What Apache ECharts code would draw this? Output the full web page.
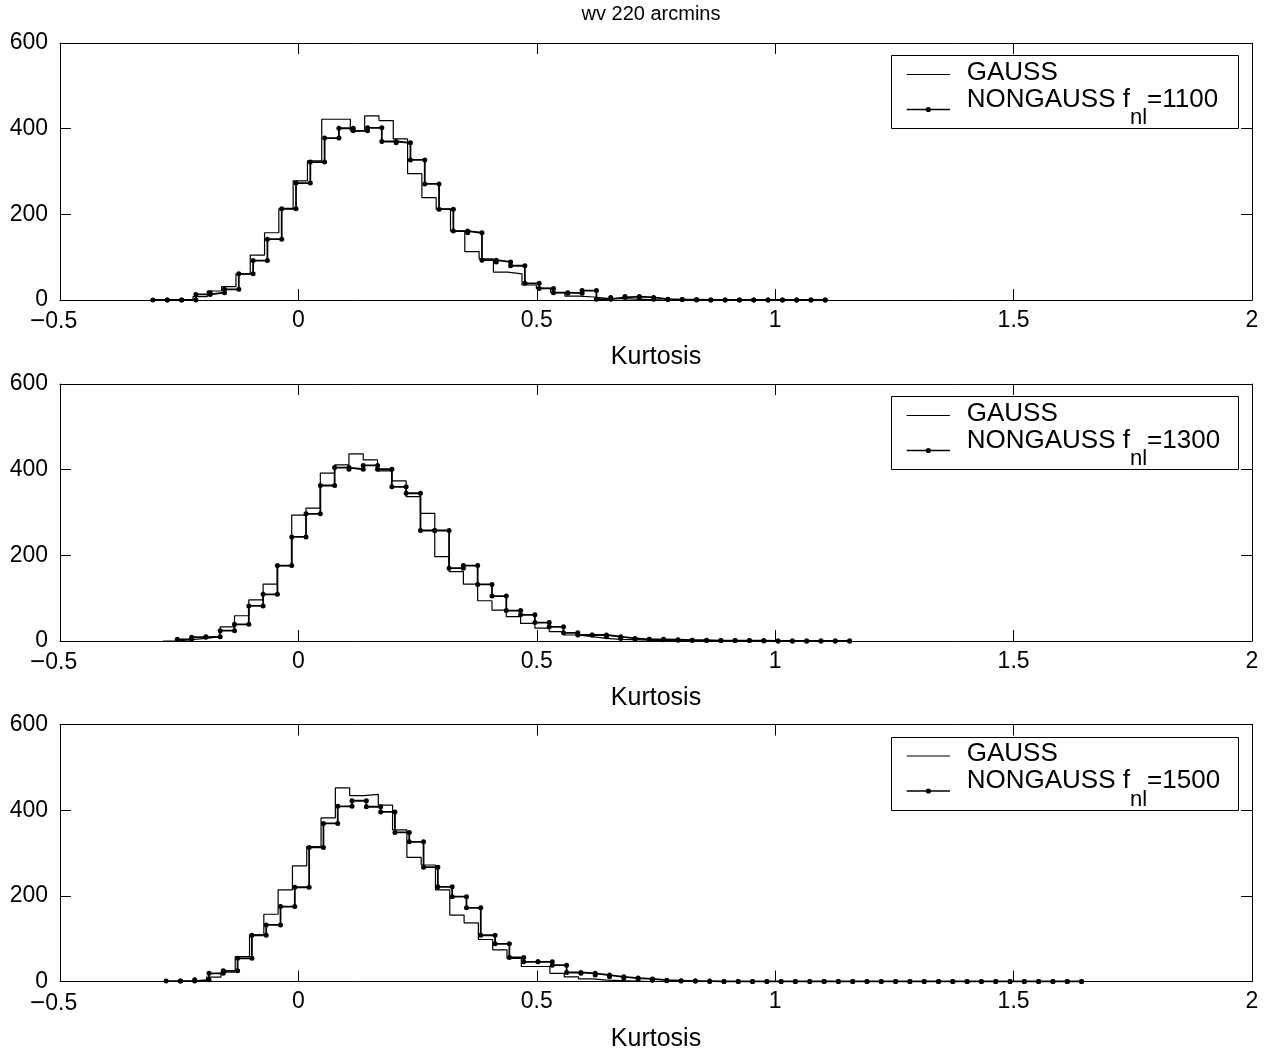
<!DOCTYPE html>
<html>
<head>
<meta charset="utf-8">
<script src="https://cdn.jsdelivr.net/npm/echarts@6/dist/echarts.min.js"></script>
<style>html,body{margin:0;padding:0;background:#fff}#c{width:1264px;height:1053px}</style>
</head>
<body>
<div id="c"></div>
<script>
// ---- data ----
const titleText = 'wv 220 arcmins';
const xLabel = 'Kurtosis';
const gaussName = 'GAUSS';
const fnlValues = [1100, 1300, 1500];
const xTicks = [-0.5, 0, 0.5, 1, 1.5, 2];
const yTicks = [0, 200, 400, 600];
const binWidth = 0.03;

// panel 1 (fnl = 1100)
const p1NgStart = -0.305;
const p1GStart = -0.311;
const p1Ng = [0,0,0,13,17,25,61,92,142,213,273,322,378,401,395,402,370,367,327,271,212,161,157,93,89,80,39,27,17,16,22,2,6,8,6,2,1,1,0,0,0,0,0,0,0,0,0,0];
const p1G  = [0,0,0,8,21,31,61,105,157,213,278,325,422,422,395,430,419,376,295,239,212,161,113,96,65,61,35,27,17,9,7,4,3,2,1,0,0,0,0,0];

// panel 2 (fnl = 1300)
const p2NgStart = -0.254;
const p2GStart = -0.284;
const p2Ng = [4,9,10,24,39,82,109,176,243,297,363,405,401,410,401,360,345,258,258,170,176,132,105,71,61,43,33,19,14,14,10,6,4,4,3,2,2,1,1,1,1,0,0,0,0,0,0,0];
const p2G  = [0,3,6,10,33,59,96,133,176,294,310,392,411,437,423,397,374,337,298,197,162,133,94,72,57,41,30,22,14,10,6,4,3,2,1,1,0,0,0,0];

// panel 3 (fnl = 1500)
const p3NgStart = -0.2775;
const p3GStart = -0.2825;
const p3Ng = [1,1,4,19,25,54,108,132,175,220,313,369,409,422,408,396,348,326,267,221,198,172,108,88,56,46,46,38,21,19,15,11,8,6,3,2,1,1,0,0,0,0,0,0,0,0,0,0,0,0,0,0,0,0,0,0,0,0,0,0,0,0,0,0,0];
const p3G  = [0,1,2,10,22,58,109,157,214,270,315,382,452,434,437,412,354,290,272,214,155,137,98,74,54,35,35,19,11,6,3,2,1,0,0,0,0,0,0,0,0,0,0,0,0];

const panels = [
  {ngStart: p1NgStart, gStart: p1GStart, ng: p1Ng, g: p1G, fnl: fnlValues[0]},
  {ngStart: p2NgStart, gStart: p2GStart, ng: p2Ng, g: p2G, fnl: fnlValues[1]},
  {ngStart: p3NgStart, gStart: p3GStart, ng: p3Ng, g: p3G, fnl: fnlValues[2]}
];

// MATLAB-style stairs: vertices (x_i,y_i) and (x_{i+1},y_i)
function stairs(start, counts) {
  const pts = [];
  for (let i = 0; i < counts.length; i++) {
    pts.push([start + i * binWidth, counts[i]]);
    if (i < counts.length - 1) pts.push([start + (i + 1) * binWidth, counts[i]]);
  }
  return pts;
}

// ---- layout ----
const FONT = "'Liberation Sans', Arial, Helvetica, sans-serif";
const gridLeft = 60, gridWidth = 1192, gridHeight = 257;
const gridTops = [43, 384, 724.5];
// negative labels: MATLAB-style wide minus, label sits a little left of its tick
const fmtX = v => (v < 0 ? '{m|\u2212}{a|' + Math.abs(v) + '}{p|0}' : String(v));

const measureCtx = document.createElement('canvas').getContext('2d');
function textWidth(str, size) {
  measureCtx.font = size + "px 'Liberation Sans', Arial, sans-serif";
  return measureCtx.measureText(str).width;
}

const option = {
  animation: false,
  backgroundColor: '#ffffff',
  title: {
    text: titleText, left: 646, top: -1, textAlign: 'center',
    textStyle: {fontFamily: FONT, fontSize: 20, fontWeight: 'normal', color: '#000'}
  },
  grid: [], xAxis: [], yAxis: [], series: [], graphic: []
};

const LEG_FS = 26, SUB_FS = 22, MID = 0.3465; // middle-baseline offset (em)

panels.forEach((p, k) => {
  const top = gridTops[k];
  option.grid.push({left: gridLeft, top: top, width: gridWidth, height: gridHeight, containLabel: false});
  const axLine = {show: true, onZero: false, lineStyle: {color: '#000', width: 1}};
  const tick = {show: true, inside: true, length: 11, lineStyle: {color: '#000', width: 1}};
  option.xAxis.push({
    type: 'value', gridIndex: k, min: xTicks[0], max: xTicks[xTicks.length - 1], interval: 0.5,
    position: 'bottom', axisLine: axLine, axisTick: tick, splitLine: {show: false},
    axisLabel: {formatter: fmtX, fontFamily: FONT, fontSize: 23, color: '#000', margin: 9,
      rich: {
        m: {fontFamily: FONT, fontSize: 26, color: '#000'},
        a: {fontFamily: FONT, fontSize: 23, color: '#000'},
        p: {fontFamily: FONT, fontSize: 23, color: 'rgba(0,0,0,0)'}
      }},
    name: xLabel, nameLocation: 'middle', nameGap: 45,
    nameTextStyle: {fontFamily: FONT, fontSize: 25, color: '#000'}
  });
  option.xAxis.push({
    type: 'value', gridIndex: k, min: xTicks[0], max: xTicks[xTicks.length - 1], interval: 0.5,
    position: 'top', axisLine: axLine, axisTick: tick, splitLine: {show: false}, axisLabel: {show: false}
  });
  option.yAxis.push({
    type: 'value', gridIndex: k, min: yTicks[0], max: yTicks[yTicks.length - 1], interval: 200,
    position: 'left', axisLine: axLine, axisTick: tick, splitLine: {show: false},
    axisLabel: {fontFamily: FONT, fontSize: 23, color: '#000', margin: 12}
  });
  option.yAxis.push({
    type: 'value', gridIndex: k, min: yTicks[0], max: yTicks[yTicks.length - 1], interval: 200,
    position: 'right', axisLine: axLine, axisTick: tick, splitLine: {show: false}, axisLabel: {show: false}
  });
  const ngName = 'NONGAUSS f_nl=' + p.fnl;
  option.series.push({
    type: 'line', name: gaussName, xAxisIndex: 2 * k, yAxisIndex: 2 * k,
    data: stairs(p.gStart, p.g), symbol: 'none',
    lineStyle: {color: '#000', width: 1.2}, itemStyle: {color: '#000'}, z: 2
  });
  option.series.push({
    type: 'line', name: ngName, xAxisIndex: 2 * k, yAxisIndex: 2 * k,
    data: stairs(p.ngStart, p.ng), symbol: 'circle', symbolSize: 5, showSymbol: true,
    lineStyle: {color: '#000', width: 1.8}, itemStyle: {color: '#000'}, z: 3
  });

  // legend box (MATLAB style)
  const bx = 891.5, by = Math.round(top + 12.2) + 0.5, bw = 347, bh = 73;
  const iconX0 = 906.7, iconX1 = 950, textX = 966.7;
  const gLineY = top + 31.5, ngLineY = top + 66.5;
  const gBase = top + 38.8, ngBase = top + 65.5, subBase = top + 83;
  const w1 = textWidth('NONGAUSS f', LEG_FS);
  const w2 = textWidth('nl', SUB_FS);
  const txt = (x, base, s, fs) => ({
    type: 'text', x: x, y: base - MID * fs, z: 21, silent: true,
    style: {text: s, fontFamily: FONT, fontSize: fs, fill: '#000', align: 'left', verticalAlign: 'middle'}
  });
  option.graphic.push(
    {type: 'rect', z: 20, silent: true, shape: {x: bx, y: by, width: bw, height: bh},
      style: {fill: '#fff', stroke: '#000', lineWidth: 1}},
    {type: 'line', z: 21, silent: true, shape: {x1: iconX0, y1: gLineY, x2: iconX1, y2: gLineY},
      style: {stroke: '#000', lineWidth: 1.2}},
    {type: 'line', z: 21, silent: true, shape: {x1: iconX0, y1: ngLineY, x2: iconX1, y2: ngLineY},
      style: {stroke: '#000', lineWidth: 1.5}},
    {type: 'circle', z: 22, silent: true, shape: {cx: (iconX0 + iconX1) / 2, cy: ngLineY, r: 2.6},
      style: {fill: '#000'}},
    txt(textX, gBase, gaussName, LEG_FS),
    txt(textX, ngBase, 'NONGAUSS f', LEG_FS),
    txt(textX + w1, subBase, 'nl', SUB_FS),
    txt(textX + w1 + w2, ngBase, '=' + p.fnl, LEG_FS)
  );
});

const chart = echarts.init(document.getElementById('c'), null, {renderer: 'canvas'});
chart.setOption(option);
</script>
</body>
</html>
